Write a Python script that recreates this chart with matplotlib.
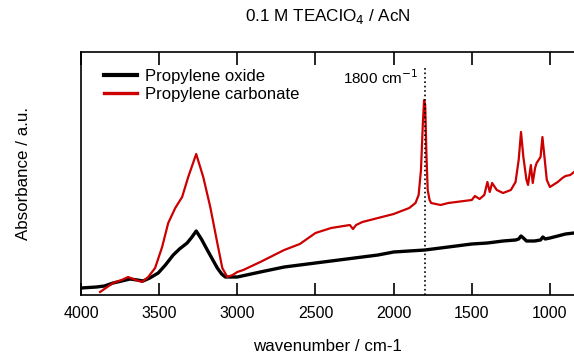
import matplotlib
matplotlib.use("Agg")
import matplotlib.pyplot as plt

plt.rcParams['font.family'] = ['Liberation Sans', 'DejaVu Sans']

# Propylene oxide (black)
wn_po = [4000, 3900, 3850, 3795, 3740, 3686, 3640, 3603, 3560, 3506, 3460,
         3410, 3370, 3321, 3290, 3263, 3230, 3192, 3160, 3128, 3100, 3077, 3040,
         3000, 2853, 2700, 2600, 2500, 2400, 2300, 2200, 2100, 2000, 1900,
         1800, 1700, 1600, 1500, 1400, 1300, 1220, 1200, 1185, 1170, 1150, 1100,
         1060, 1045, 1030, 1000, 950, 900, 846]
abs_po = [7, 8, 9, 12, 14, 16, 15, 14, 17, 22, 30,
          40, 46, 52, 58, 64, 56, 45, 36, 27, 21, 18, 18,
          18, 23, 28, 30, 32, 34, 36, 38, 40, 43, 44,
          45, 47, 49, 51, 52, 54, 55, 56, 59, 57, 54, 54,
          55, 58, 56, 57, 59, 61, 62]

# Propylene carbonate (red)
wn_pc = [3878, 3795, 3740, 3699, 3650, 3609, 3570, 3526, 3481, 3442, 3397, 3353,
         3314, 3263, 3218, 3173, 3128, 3096, 3064, 3030, 3000, 2962, 2853, 2700,
         2600, 2500, 2400, 2280, 2260, 2240, 2200, 2100, 2000, 1900, 1860,
         1840, 1825, 1812, 1805, 1798, 1790, 1782, 1770, 1760, 1700, 1650, 1600,
         1550, 1500, 1480, 1450, 1420, 1400, 1385, 1370, 1340, 1300, 1250, 1220,
         1200, 1185, 1170, 1150, 1140, 1122, 1110, 1095, 1085, 1060, 1048, 1035,
         1020, 1000, 980, 950, 920, 900, 870, 846]
abs_pc = [3, 12, 15, 18, 15, 13, 18, 27, 48, 72, 87, 98,
          118, 141, 118, 88, 52, 27, 18, 20, 23, 25, 33, 45,
          51, 62, 67, 70, 66, 70, 73, 77, 81, 87, 92,
          100, 125, 175, 195, 190, 140, 105, 95, 92, 90, 92, 93,
          94, 95, 99, 96, 100, 113, 103, 112, 105, 102, 105, 113,
          135, 163, 138, 115, 110, 130, 112, 127, 132, 138, 158, 138,
          115, 108, 110, 113, 117, 119, 120, 123]

marker_wn = 1800

fig = plt.figure(figsize=(5.74, 3.55), dpi=100)
ax = fig.add_axes([81 / 574, 60 / 355, 1 - 81 / 574, 243 / 355])

ax.plot(wn_po, abs_po, color='black', lw=2.4, label='Propylene oxide')
ax.plot(wn_pc, abs_pc, color='#cc0000', lw=1.6, label='Propylene carbonate')
ax.vlines(marker_wn, 0, 229, colors='black', linestyles=':', lw=1.2)
ax.text(marker_wn + 40, 217, '1800 cm$^{-1}$', ha='right', va='center', fontsize=11)

ax.set_xlim(4000, 846)
ax.set_ylim(0, 243)
ax.set_xticks([4000, 3500, 3000, 2500, 2000, 1500, 1000])
ax.set_yticks([])
ax.tick_params(axis='x', direction='in', length=9, width=1.2, top=True,
               labelsize=11.5, pad=8)
ax.spines['right'].set_visible(False)
for s in ['left', 'top', 'bottom']:
    ax.spines[s].set_linewidth(1.2)

ax.set_xlabel('wavenumber / cm-1', fontsize=12.2, labelpad=13)
ax.set_ylabel('Absorbance / a.u.', fontsize=12.2, labelpad=36)
fig.text(328 / 574, 1 - 17 / 355, '0.1 M TEAClO$_4$ / AcN', ha='center',
         va='center', fontsize=12.3)

leg = ax.legend(loc='upper left', frameon=False, fontsize=12, handlelength=2.0,
                borderaxespad=0.6, labelspacing=0.2, handletextpad=0.5,
                bbox_to_anchor=(0.012, 1.0))
leg.get_lines()[0].set_linewidth(3)
leg.get_lines()[1].set_linewidth(2.4)

fig.savefig('out.png', dpi=100)
